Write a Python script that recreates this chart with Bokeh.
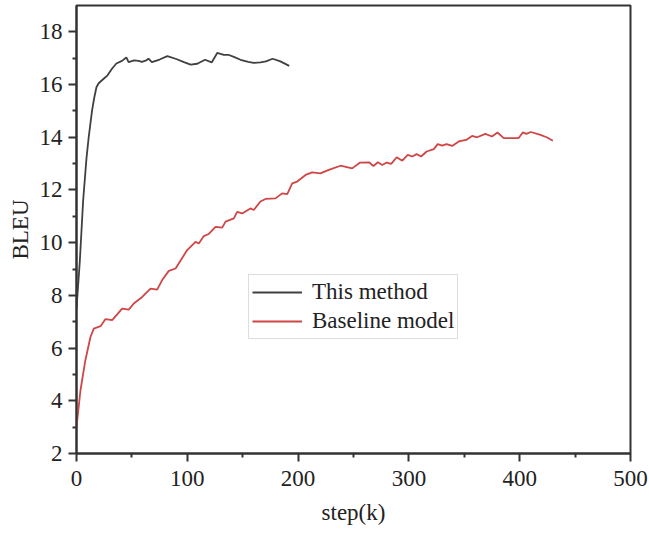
from bokeh.plotting import figure
from bokeh.models import Range1d, Legend, LegendItem, FixedTicker
from bokeh.embed import file_html
from bokeh.resources import INLINE

# ---- data ----
method_step = [0, 3, 6, 9, 11, 14, 16, 18, 20, 24, 28, 32, 36, 41, 45, 47, 52, 56, 59, 63, 65, 68,
               75, 82, 90, 97, 103, 109, 116, 122, 127, 133, 137, 142, 148, 155, 160, 166, 171,
               177, 184, 192]
method_bleu = [7.5, 9.3, 11.6, 13.2, 14.0, 15.0, 15.5, 15.9, 16.05, 16.2, 16.35, 16.6, 16.8, 16.9,
               17.03, 16.85, 16.92, 16.9, 16.86, 16.92, 16.98, 16.85, 16.95, 17.08, 16.97, 16.85,
               16.76, 16.79, 16.94, 16.84, 17.2, 17.13, 17.13, 17.05, 16.94, 16.86, 16.82, 16.84,
               16.88, 16.98, 16.88, 16.71]

base_step = [0, 3.6, 8, 12.6, 15.6, 21.7, 26.2, 32.2, 41.2, 47.2, 51.7, 59.3, 66.8, 72.8, 77.3,
             83.3, 89.4, 99.9, 107.4, 110.4, 114.9, 119.4, 125.5, 131.5, 134.5, 142, 145, 149.5,
             157, 160, 166, 170.6, 179.6, 185.6, 190.2, 194.7, 199.2, 206.7, 212.7, 220, 227.7,
             238.3, 248.8, 256, 264, 268, 272, 276, 280, 284, 289, 294, 299, 303, 307, 311, 316,
             322.5, 326, 330, 334, 339, 345, 351.7, 357, 361.6, 369, 375, 380, 385.6, 399, 403,
             406, 410, 418.8, 424.8, 429.9]
base_bleu = [3.0, 4.4, 5.54, 6.42, 6.74, 6.83, 7.1, 7.06, 7.5, 7.46, 7.69, 7.94, 8.26, 8.22, 8.58,
             8.93, 9.02, 9.72, 10.03, 9.97, 10.25, 10.33, 10.6, 10.57, 10.8, 10.92, 11.17, 11.11,
             11.3, 11.24, 11.56, 11.66, 11.68, 11.87, 11.84, 12.25, 12.32, 12.57, 12.67, 12.63,
             12.76, 12.92, 12.82, 13.04, 13.05, 12.91, 13.05, 12.95, 13.04, 12.99, 13.24, 13.11,
             13.33, 13.27, 13.36, 13.27, 13.46, 13.55, 13.74, 13.68, 13.74, 13.67, 13.84, 13.9,
             14.05, 14.0, 14.13, 14.03, 14.18, 13.97, 13.97, 14.19, 14.13, 14.2, 14.09, 13.99,
             13.87]

series_names = ["This method", "Baseline model"]
x_ticks = [0, 100, 200, 300, 400, 500]
y_ticks = [2, 4, 6, 8, 10, 12, 14, 16, 18]

FONT = "Liberation Serif"
FS = "23px"

p = figure(width=649, height=534, output_backend="svg", toolbar_location=None,
           x_range=Range1d(0, 500), y_range=Range1d(2, 19),
           min_border_left=76, min_border_right=19, min_border_top=5, min_border_bottom=81)

p.xgrid.visible = False
p.ygrid.visible = False
p.outline_line_color = "#333333"
p.outline_line_width = 2
p.background_fill_color = "white"
p.border_fill_color = "white"

r1 = p.line(method_step, method_bleu, line_color="#404040", line_width=1.8)
r2 = p.line(base_step, base_bleu, line_color="#d04545", line_width=1.8)

p.xaxis.ticker = FixedTicker(ticks=x_ticks, minor_ticks=[50, 150, 250, 350, 450])
p.yaxis.ticker = FixedTicker(ticks=y_ticks, minor_ticks=[3, 5, 7, 9, 11, 13, 15, 17])

for ax in (p.xaxis[0], p.yaxis[0]):
    ax.axis_line_width = 2
    ax.axis_line_color = "#333333"
    ax.major_tick_line_width = 2
    ax.major_tick_line_color = "#333333"
    ax.minor_tick_line_width = 2
    ax.minor_tick_line_color = "#333333"
    ax.major_tick_out = 8
    ax.major_tick_in = 0
    ax.minor_tick_out = 4
    ax.minor_tick_in = 0
    ax.major_label_text_font = FONT
    ax.major_label_text_font_size = FS
    ax.major_label_text_color = "#222222"
    ax.axis_label_text_font = FONT
    ax.axis_label_text_font_size = FS
    ax.axis_label_text_font_style = "normal"
    ax.axis_label_text_color = "#222222"

p.xaxis.axis_label = "step(k)"
p.yaxis.axis_label = "BLEU"
p.xaxis.major_label_standoff = 9
p.xaxis.axis_label_standoff = 11
p.yaxis.major_label_standoff = 6
p.yaxis.axis_label_standoff = 4

legend = Legend(items=[LegendItem(label=series_names[0], renderers=[r1]),
                       LegendItem(label=series_names[1], renderers=[r2])],
                location=(172, 114))
legend.label_text_font = FONT
legend.label_text_font_size = FS
legend.label_text_color = "#222222"
legend.glyph_width = 50
legend.glyph_height = 28
legend.label_height = 28
legend.label_standoff = 10
legend.spacing = 1
legend.padding = 3
legend.margin = 0
legend.border_line_color = "#bbbbbb"
legend.border_line_width = 1
legend.background_fill_alpha = 1
p.add_layout(legend, "center")

open("out.html", "w").write(file_html(p, INLINE))
